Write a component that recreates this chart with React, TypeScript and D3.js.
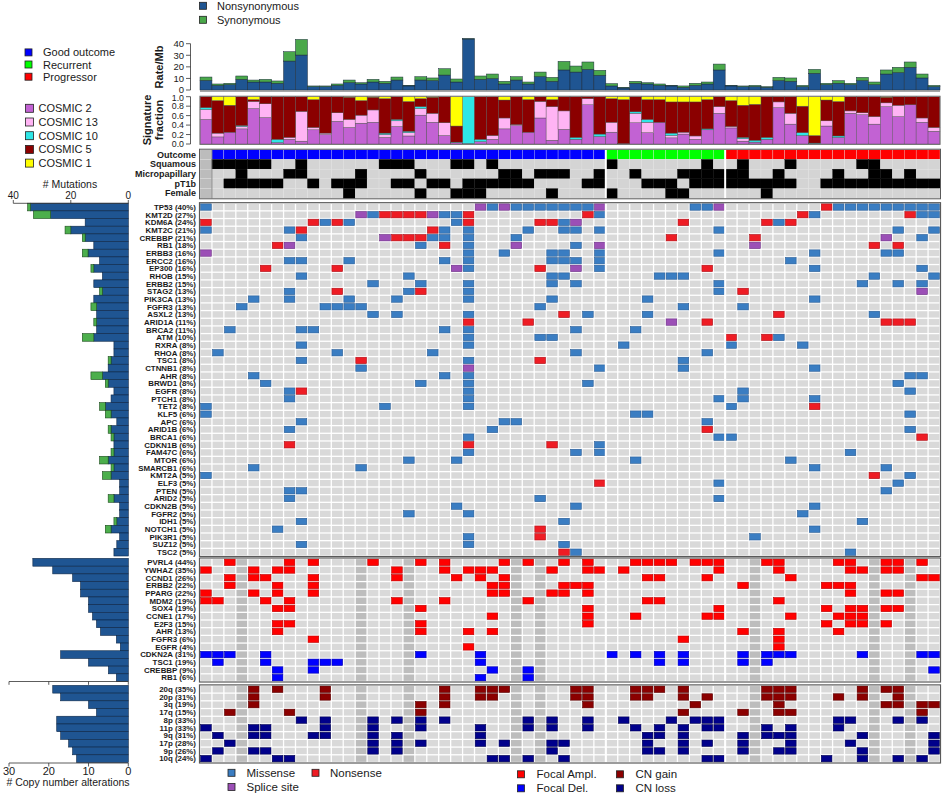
import React from "react";
import * as d3 from "d3";

const FONT = "Liberation Sans, Arial, Helvetica, sans-serif";
const N_SAMPLES = 62;
const MISSING_CN = [3, 13, 17, 26, 28, 46, 56, 59];

// outcome per sample: - unknown, G good outcome, R recurrent, P progressor
const outcomeCodes = ("-" + "GGGGGGGGGG" + "GGGGGGGGGG" + "GGGGGGGGGG" + "GGG" + "RRRRRRRRRR" + "PPPPPPPPPP" + "PPPPPPPP").split("");
const squamous = [1, 2, 3, 4, 5, 8, 15, 16, 17, 21, 22, 24, 34, 42, 45, 49, 55, 56];
const micropapillary = [3, 7, 8, 13, 18, 25, 26, 28, 29, 30, 33, 36, 40, 41, 42, 43, 44, 45, 48, 53, 56, 57, 59];
const pT1b = [2, 3, 4, 5, 6, 9, 11, 12, 13, 16, 17, 19, 20, 22, 23, 24, 25, 26, 27, 32, 33, 37, 38, 39, 41, 42, 43, 44, 45, 46, 47, 48, 49, 52, 53, 54, 55, 56, 57, 58, 59, 60, 61];
const female = [12, 18, 21, 22, 23, 29, 34, 39, 40, 47];

// mutation rate per Mb
const rateNonsyn = [8.3, 4.0, 4.6, 9.2, 6.9, 6.9, 5.8, 25.0, 30.2, 2.9, 2.9, 4.0, 6.3, 5.2, 6.9, 5.8, 8.6, 3.5, 8.6, 8.1, 12.9, 6.9, 44.0, 9.2, 9.8, 5.2, 8.6, 5.2, 11.5, 7.5, 17.3, 15.5, 17.8, 12.7, 3.5, 1.7, 5.8, 5.2, 4.0, 3.5, 2.3, 4.0, 5.2, 17.3, 3.5, 2.9, 2.9, 2.3, 8.1, 7.5, 2.9, 14.4, 4.6, 5.8, 4.6, 8.1, 4.6, 13.8, 15.0, 19.6, 10.4, 2.9];
const rateSyn = [2.9, 1.2, 1.2, 2.9, 1.7, 2.3, 2.0, 8.1, 13.5, 0.6, 0.6, 1.2, 2.3, 1.1, 2.3, 1.7, 2.6, 0.5, 2.9, 2.3, 5.5, 2.6, 0.3, 2.9, 4.0, 2.3, 2.9, 1.7, 4.0, 3.4, 7.4, 5.2, 6.4, 4.3, 2.0, 0.6, 1.7, 1.1, 1.2, 0.5, 1.2, 1.8, 1.7, 5.1, 0.5, 0.6, 1.1, 0.6, 2.8, 2.9, 1.1, 3.4, 1.2, 2.3, 1.2, 2.8, 2.3, 3.5, 4.6, 4.6, 3.4, 1.1];

// signature fractions
const sigCosmic2 = [.52, .15, .25, .32, .75, .56, .03, .10, .06, .30, .20, .48, .35, .44, .46, .14, .37, .17, .61, .46, .18, .03, .01, .05, .10, .32, .39, .25, .55, .08, .31, .10, .83, .16, .25, .01, .45, .24, .46, .13, .21, .10, .30, .65, .34, .06, .04, .10, .77, .42, .18, .01, .38, .14, .65, .62, .42, .79, .58, .83, .46, .27];
const sigCosmic13 = [.21, .08, 0, .05, .15, .29, 0, .04, .63, .05, .03, .18, .17, .17, .26, .06, .12, .07, .14, .19, .27, 0, 0, 0, .08, .23, .02, 0, .35, .71, .39, 0, .13, 0, .21, 0, .20, .22, 0, .05, .04, .07, 0, .14, .03, .05, 0, 0, .12, .23, 0, 0, .11, 0, .05, .04, .16, .08, .24, 0, .09, .08];
const sigCosmic10 = [.04, 0, 0, .02, 0, 0, .07, 0, 0, 0, 0, 0, 0, 0, 0, .03, .03, .03, .04, 0, 0, .01, .99, .05, 0, 0, 0, 0, 0, 0, 0, .04, 0, .05, 0, 0, .03, .06, 0, .05, 0, 0, .02, 0, 0, .03, .04, .04, 0, 0, .06, .01, 0, .03, 0, 0, 0, 0, 0, 0, 0, 0];
const sigCosmic5 = [.23, .69, .57, .61, .04, .15, .90, .86, .31, .59, .77, .34, .47, .31, .27, .73, .48, .63, .17, .34, .55, .34, 0, .90, .82, .38, .59, .69, .10, .15, .30, .86, .04, .79, .50, .93, .32, .42, .48, .66, .64, .72, .62, .21, .55, .68, .76, .86, .11, .35, .56, .16, .44, .73, .30, .34, .42, .12, .18, .17, .45, .65];
const sigCosmic1 = [0, .08, .18, 0, .06, 0, 0, 0, 0, .06, 0, 0, .01, .08, .01, .04, 0, .10, .04, .01, 0, .62, 0, 0, 0, .07, 0, .06, 0, .06, 0, 0, 0, 0, .04, .06, 0, .06, .06, .11, .11, .11, .06, 0, .08, .18, .16, 0, 0, 0, .20, .82, .07, .10, 0, 0, 0, .01, 0, 0, 0, 0];

// mutated genes
const mutGenes = ["TP53", "KMT2D", "KDM6A", "KMT2C", "CREBBP", "RB1", "ERBB3", "ERCC2", "EP300", "RHOB", "ERBB2", "STAG2", "PIK3CA", "FGFR3", "ASXL2", "ARID1A", "BRCA2", "ATM", "RXRA", "RHOA", "TSC1", "CTNNB1", "AHR", "BRWD1", "EGFR", "PTCH1", "TET2", "KLF5", "APC", "ARID1B", "BRCA1", "CDKN1B", "FAM47C", "MTOR", "SMARCB1", "KMT2A", "ELF3", "PTEN", "ARID2", "CDKN2B", "FGFR2", "IDH1", "NOTCH1", "PIK3R1", "SUZ12", "TSC2"];
const mutPct = ["40%", "27%", "24%", "21%", "21%", "18%", "16%", "16%", "16%", "15%", "15%", "13%", "13%", "13%", "13%", "11%", "11%", "10%", "8%", "8%", "8%", "8%", "8%", "8%", "8%", "8%", "8%", "6%", "6%", "6%", "6%", "6%", "6%", "6%", "6%", "5%", "5%", "5%", "5%", "5%", "5%", "5%", "5%", "5%", "5%", "5%"];
const mutBarNonsyn = [34, 27, 15, 20, 15, 12, 14, 10, 12, 9, 12, 9, 12, 11, 11, 11, 11, 12, 5, 5, 6, 7, 9, 7, 5, 6, 8, 6, 4, 6, 5, 5, 5, 7, 5, 6, 3, 3, 5, 3, 3, 4, 6, 3, 4, 5];
const mutBarSyn = [1, 6, 0, 2, 1, 0, 2, 0, 1, 0, 0, 1, 0, 2, 0, 1, 0, 4, 0, 0, 1, 0, 4, 1, 0, 0, 2, 2, 0, 1, 1, 0, 1, 3, 1, 3, 0, 0, 2, 0, 0, 1, 2, 0, 0, 0];
const mutMissense = [
  [0, 24, 26, 27, 28, 29, 30, 31, 32, 41, 42, 53, 54, 55, 56, 57, 58, 59, 60, 61],
  [14, 20, 21, 33, 51, 60, 61],
  [10, 12, 21, 30, 48],
  [0, 7, 20, 22, 27, 30, 31, 33, 43, 58, 61],
  [8, 19, 20, 22, 26, 60],
  [18, 22, 31],
  [22, 25, 29, 30, 33, 43, 51, 57, 58],
  [7, 8, 12, 20, 22, 29, 30, 31, 33, 49],
  [22, 33, 51, 60],
  [8, 17, 29, 30, 38, 39, 40, 56, 61],
  [14, 18, 22, 29, 31, 43, 55, 58, 60],
  [7, 17, 22, 43],
  [4, 7, 12, 16, 22, 29, 37, 51],
  [3, 10, 11, 12, 13, 28, 40, 45],
  [14, 16, 22, 32, 37, 56],
  [],
  [2, 8, 9, 20, 22, 31, 36],
  [22, 28, 29, 48],
  [8, 22, 35, 44, 50],
  [1, 11, 19, 31, 42],
  [8, 22, 40],
  [13, 33, 40, 51],
  [4, 20, 22, 59, 60],
  [5, 18, 22, 32, 58],
  [7, 22, 45, 59],
  [7, 22, 43, 45, 51],
  [0, 15, 22, 44],
  [0, 36, 37, 59],
  [8, 25, 26, 42],
  [7, 24, 59],
  [22, 43, 44],
  [33],
  [22, 31, 33, 54],
  [17, 21, 36, 49],
  [4, 13, 51, 57],
  [0, 59],
  [43, 58],
  [7, 8, 57],
  [7, 28, 43],
  [21, 31, 51],
  [17, 22, 50],
  [8, 30, 55],
  [6, 51],
  [22, 46],
  [8, 22, 30],
  [31, 54],
];
const mutNonsense = [
  [52], [15, 16, 17, 18, 22, 32, 50, 59], [0, 9, 11, 22, 28, 29, 40, 47, 49], [8, 19], [16, 17, 18, 39, 46],
  [6, 20, 56, 58], [], [], [5, 11, 28, 42], [], [], [11, 18, 45], [], [], [30, 48], [22, 27, 42, 57, 58, 59],
  [], [44, 47], [], [], [13, 28], [], [], [], [8], [], [51], [], [], [42], [60], [7, 22, 29], [], [], [],
  [56], [33], [], [], [], [], [], [28], [28], [], [30],
];
const mutSplice = [
  [23, 25, 33, 43], [13, 19], [31], [], [15, 57], [7, 26, 33, 46], [0], [], [21, 31], [], [], [60], [], [], [], [39],
  [], [], [], [], [], [22], [], [], [], [], [], [], [], [], [], [], [], [], [], [], [], [], [], [], [], [], [], [], [], [],
];

// focal copy number
const cnaGenes = ["PVRL4", "YWHAZ", "CCND1", "ERBB2", "PPARG", "MDM2", "SOX4", "CCNE1", "E2F3", "AHR", "FGFR3", "EGFR", "CDKN2A", "TSC1", "CREBBP", "RB1"];
const cnaPct = ["44%", "35%", "26%", "22%", "22%", "19%", "19%", "17%", "15%", "13%", "6%", "4%", "31%", "19%", "9%", "6%"];
const cnaType = ["amp", "amp", "amp", "amp", "amp", "amp", "amp", "amp", "amp", "amp", "amp", "amp", "del", "del", "del", "del"];
const cnaSamples = [
  [2, 7, 9, 14, 18, 20, 25, 27, 30, 32, 36, 37, 38, 39, 41, 42, 43, 47, 48, 53, 54, 57, 58, 60],
  [0, 4, 6, 7, 16, 20, 22, 23, 24, 29, 32, 33, 35, 43, 48, 54, 55, 57, 58],
  [2, 4, 5, 9, 16, 21, 23, 25, 37, 38, 42, 49, 60, 61],
  [2, 6, 9, 24, 25, 30, 31, 32, 45, 52, 53, 54],
  [0, 4, 6, 9, 24, 25, 29, 30, 32, 54, 57, 58],
  [0, 1, 5, 7, 16, 20, 27, 37, 38, 48],
  [6, 7, 18, 32, 43, 52, 54, 55, 57, 58],
  [24, 32, 36, 42, 43, 49, 53, 54, 55],
  [6, 7, 18, 32, 52, 54, 55, 57],
  [6, 18, 22, 24, 45, 48, 53],
  [9, 40, 48],
  [22, 48],
  [0, 1, 2, 5, 18, 23, 34, 36, 38, 40, 45, 47, 48, 49, 55, 60, 61],
  [1, 5, 9, 10, 11, 23, 38, 40, 45, 47],
  [6, 9, 24, 27, 61],
  [6, 23, 27],
];

// arm-level copy number
const armNames = ["20q", "20p", "3q", "17q", "8p", "11p", "9q", "17p", "9p", "10q"];
const armPct = ["35%", "31%", "19%", "15%", "33%", "33%", "31%", "28%", "26%", "24%"];
const armType = ["gain", "gain", "gain", "gain", "loss", "loss", "loss", "loss", "loss", "loss"];
const armSamples = [
  [4, 6, 10, 20, 23, 24, 25, 31, 32, 36, 37, 38, 40, 47, 48, 49, 55, 57, 58],
  [4, 10, 20, 23, 24, 31, 32, 36, 37, 40, 42, 47, 48, 49, 53, 55, 58],
  [4, 18, 20, 32, 41, 48, 57, 58, 60, 61],
  [2, 7, 18, 40, 45, 48, 49, 60],
  [8, 10, 14, 16, 18, 20, 27, 29, 32, 35, 39, 41, 42, 43, 53, 54, 58, 60],
  [0, 4, 5, 10, 14, 18, 23, 27, 29, 32, 36, 38, 40, 42, 43, 47, 49, 53],
  [1, 4, 5, 9, 10, 14, 16, 23, 37, 38, 40, 45, 47, 48, 49, 55, 61],
  [2, 14, 16, 18, 23, 25, 29, 30, 37, 40, 42, 45, 49, 54, 61],
  [1, 4, 5, 14, 16, 29, 37, 38, 40, 45, 48, 49, 55, 61],
  [0, 6, 7, 24, 25, 27, 30, 42, 43, 52, 55, 58, 60],
];

const C = {
  nonsyn: "#1f5592", syn: "#4aa84a",
  c2: "#c262d3", c13: "#ffb4f4", c10: "#2ee6e6", c5: "#8b0000", c1: "#ffff00",
  good: "#0000ff", rec: "#00ff00", prog: "#ff0000",
  missense: "#3a7dc2", nonsense: "#ee1c24", splice: "#9b4fb6",
  amp: "#ff0000", del: "#0000ff", gain: "#8b0000", loss: "#00008b",
  cell: "#d9d9d9", missing: "#bdbdbd", clin: "#d4d4d4", frame: "#5a5a5a", text: "#1a1a1a",
  barBlue: "#1f5592", barGreen: "#4caf4c",
};
const STROKE: Record<string, string> = {
  missense: "#2a5f99", nonsense: "#b01018", splice: "#6f2f88",
  amp: "#c00000", del: "#0000b0", gain: "#5a0000", loss: "#000050",
};

export default function App() {
  const x = d3.scaleBand<number>().domain(d3.range(N_SAMPLES)).range([200, 940]);
  const cw = x.bandwidth();
  const yRate = d3.scaleLinear().domain([0, 40]).range([90, 43.7]);
  const ySig = d3.scaleLinear().domain([0, 1]).range([144, 96.7]);
  const clinRows = ["Outcome", "Squamous", "Micropapillary", "pT1b", "Female"];
  const yClin = d3.scaleBand<string>().domain(clinRows).range([149.7, 198.3]);
  const yMut = d3.scaleBand<string>().domain(mutGenes).range([203.2, 556]);
  const yCna = d3.scaleBand<string>().domain(cnaGenes).range([558.5, 681.5]);
  const yArm = d3.scaleBand<string>().domain(armNames).range([685.4, 762.5]);
  const xMutBar = d3.scaleLinear().domain([0, 40]).range([128.3, 13.3]);
  const xCnaBar = d3.scaleLinear().domain([0, 30]).range([128.3, 9]);

  const rateTable = d3.range(N_SAMPLES).map((i) => ({ nonsyn: rateNonsyn[i], syn: rateSyn[i] }));
  const rateStack = d3.stack<any>().keys(["nonsyn", "syn"])(rateTable);
  const sigTable = d3.range(N_SAMPLES).map((i) => ({ c2: sigCosmic2[i], c13: sigCosmic13[i], c10: sigCosmic10[i], c5: sigCosmic5[i], c1: sigCosmic1[i] }));
  const sigStack = d3.stack<any>().keys(["c2", "c13", "c10", "c5", "c1"])(sigTable);

  const gx = 0.65, gy = 0.65;
  const cellRect = (key: string, i: number, y0: number, h: number, fill: string, stroke?: string) => (
    <rect key={key} x={x(i)! + gx} y={y0 + gy} width={cw - 2 * gx} height={h - 2 * gy} fill={fill} stroke={stroke || "none"} strokeWidth={stroke ? 0.6 : 0} />
  );

  const clinSets: Record<string, number[]> = { Squamous: squamous, Micropapillary: micropapillary, pT1b: pT1b, Female: female };
  const outColor: Record<string, string> = { G: C.good, R: C.rec, P: C.prog };

  const els: JSX.Element[] = [];

  // ---------- rate bars ----------
  rateStack.forEach((layer) => {
    layer.forEach((d, i) => {
      els.push(<rect key={`r-${layer.key}-${i}`} x={x(i)!} y={yRate(d[1])} width={cw} height={yRate(d[0]) - yRate(d[1])}
        fill={layer.key === "nonsyn" ? C.nonsyn : C.syn} stroke="#1b2b3b" strokeWidth={0.5} />);
    });
  });
  els.push(<line key="rate-base" x1={200} x2={940} y1={91} y2={91} stroke="#8a8a8a" strokeWidth={1.5} />);
  // rate axis
  els.push(<line key="rate-ax" x1={190.5} x2={190.5} y1={yRate(0)} y2={yRate(40)} stroke="#333" strokeWidth={0.8} />);
  yRate.ticks(4).forEach((t) => {
    els.push(<line key={`rt-${t}`} x1={186} x2={190.5} y1={yRate(t)} y2={yRate(t)} stroke="#333" strokeWidth={0.8} />);
    els.push(<text key={`rl-${t}`} x={184} y={yRate(t) - (t === 0 ? 1 : 0)} textAnchor="end" dominantBaseline="central" fontSize={9.5} fill={C.text}>{t}</text>);
  });
  els.push(<text key="rate-title" transform={`translate(163,67) rotate(-90)`} textAnchor="middle" fontSize={11} fontWeight="bold" fill={C.text}>Rate/Mb</text>);

  // ---------- signature ----------
  sigStack.forEach((layer) => {
    layer.forEach((d, i) => {
      if (d[1] - d[0] <= 0) return;
      els.push(<rect key={`s-${layer.key}-${i}`} x={x(i)!} y={ySig(d[1])} width={cw} height={ySig(d[0]) - ySig(d[1])}
        fill={(C as any)[layer.key as string]} stroke="#4a4a4a" strokeWidth={0.4} />);
    });
  });
  els.push(<rect key="sig-frame" x={200} y={ySig(1) - 0.5} width={740} height={ySig(0) - ySig(1) + 1} fill="none" stroke="#777" strokeWidth={1} />);
  els.push(<line key="sig-ax" x1={190.5} x2={190.5} y1={ySig(0)} y2={ySig(1)} stroke="#333" strokeWidth={0.8} />);
  ySig.ticks(5).forEach((t) => {
    els.push(<line key={`st-${t}`} x1={186} x2={190.5} y1={ySig(t)} y2={ySig(t)} stroke="#333" strokeWidth={0.8} />);
    els.push(<text key={`sl-${t}`} x={184} y={ySig(t) + (t === 1 ? 1 : 0)} textAnchor="end" dominantBaseline="central" fontSize={8.8} fill={C.text}>{d3.format(".1f")(t)}</text>);
  });
  els.push(<text key="sig-t1" transform={`translate(151,120) rotate(-90)`} textAnchor="middle" fontSize={11} fontWeight="bold" fill={C.text}>Signature</text>);
  els.push(<text key="sig-t2" transform={`translate(163,120) rotate(-90)`} textAnchor="middle" fontSize={11} fontWeight="bold" fill={C.text}>fraction</text>);

  // ---------- clinical ----------
  clinRows.forEach((row) => {
    const y0 = yClin(row)!, h = yClin.bandwidth();
    d3.range(N_SAMPLES).forEach((i) => {
      let fill = C.clin;
      if (outcomeCodes[i] === "-") fill = "#bcbcbc";
      else if (row === "Outcome") fill = outColor[outcomeCodes[i]];
      else if (clinSets[row].includes(i)) fill = "#000";
      els.push(<rect key={`c-${row}-${i}`} x={x(i)!} y={y0} width={cw} height={h} fill={fill} stroke={fill === "#000" ? "#000" : "#e4e4e4"} strokeWidth={0.3} />);
    });
    els.push(<text key={`cl-${row}`} x={196} y={y0 + h / 2} textAnchor="end" dominantBaseline="central" fontSize={9} fontWeight="bold" fill={C.text}>{row}</text>);
  });
  els.push(<line key="c0sep" x1={x(1)!} x2={x(1)!} y1={149.7} y2={198.3} stroke="#777" strokeWidth={0.8} />);

  // ---------- mutation matrix ----------
  mutGenes.forEach((g, r) => {
    const y0 = yMut(g)!, h = yMut.bandwidth();
    d3.range(N_SAMPLES).forEach((i) => els.push(cellRect(`mg-${r}-${i}`, i, y0, h, C.cell)));
    mutMissense[r].forEach((i) => els.push(cellRect(`mm-${r}-${i}`, i, y0, h, C.missense, STROKE.missense)));
    mutNonsense[r].forEach((i) => els.push(cellRect(`mn-${r}-${i}`, i, y0, h, C.nonsense, STROKE.nonsense)));
    mutSplice[r].forEach((i) => els.push(cellRect(`ms-${r}-${i}`, i, y0, h, C.splice, STROKE.splice)));
    els.push(<text key={`ml-${r}`} x={196} y={y0 + h / 2 + 0.3} textAnchor="end" dominantBaseline="central" fontSize={7.9} fontWeight="bold" fill={C.text}>{`${g} (${mutPct[r]})`}</text>);
    // left bars
    const ns = mutBarNonsyn[r], sy = mutBarSyn[r];
    els.push(<rect key={`mb-${r}`} x={xMutBar(ns)} y={y0} width={xMutBar(0) - xMutBar(ns)} height={h} fill={C.barBlue} stroke="#0c2646" strokeWidth={0.6} />);
    if (sy > 0) els.push(<rect key={`mbs-${r}`} x={xMutBar(ns + sy)} y={y0} width={xMutBar(ns) - xMutBar(ns + sy)} height={h} fill={C.barGreen} stroke="#1c4a1c" strokeWidth={0.6} />);
  });
  // mutation bar axis
  els.push(<line key="mb-ax" x1={xMutBar(40)} x2={xMutBar(0)} y1={203.3} y2={203.3} stroke="#333" strokeWidth={0.8} />);
  [40, 20, 0].forEach((t) => {
    els.push(<line key={`mbt-${t}`} x1={xMutBar(t)} x2={xMutBar(t)} y1={200} y2={203.3} stroke="#333" strokeWidth={0.8} />);
    els.push(<text key={`mbl-${t}`} x={xMutBar(t)} y={199} textAnchor="middle" fontSize={10} fill={C.text}>{t}</text>);
  });
  els.push(<text key="mb-title" x={70} y={187.5} textAnchor="middle" fontSize={10.5} fill={C.text}># Mutations</text>);
  els.push(<line key="mb-bottom" x1={32} x2={128.3} y1={558.7} y2={558.7} stroke="#b8c4d0" strokeWidth={1} />);

  // ---------- focal CNA ----------
  cnaGenes.forEach((g, r) => {
    const y0 = yCna(g)!, h = yCna.bandwidth();
    d3.range(N_SAMPLES).forEach((i) => els.push(cellRect(`cg-${r}-${i}`, i, y0, h, MISSING_CN.includes(i) ? C.missing : C.cell)));
    const t = cnaType[r];
    cnaSamples[r].forEach((i) => els.push(cellRect(`cc-${r}-${i}`, i, y0, h, (C as any)[t], STROKE[t])));
    els.push(<text key={`cl-${r}`} x={196} y={y0 + h / 2 + 0.3} textAnchor="end" dominantBaseline="central" fontSize={7.9} fontWeight="bold" fill={C.text}>{`${g} (${cnaPct[r]})`}</text>);
    const n = cnaSamples[r].length;
    els.push(<rect key={`cb-${r}`} x={xCnaBar(n)} y={y0} width={xCnaBar(0) - xCnaBar(n)} height={h} fill={C.barBlue} stroke="#0c2646" strokeWidth={0.6} />);
  });
  els.push(<line key="cb-ax" x1={xCnaBar(30)} x2={xCnaBar(0)} y1={681.5} y2={681.5} stroke="#333" strokeWidth={0.8} />);
  [30, 20, 10, 0].forEach((t) => els.push(<line key={`cbt-${t}`} x1={xCnaBar(t)} x2={xCnaBar(t)} y1={681.5} y2={684.8} stroke="#333" strokeWidth={0.8} />));

  // ---------- arm level ----------
  armNames.forEach((a, r) => {
    const y0 = yArm(a)!, h = yArm.bandwidth();
    d3.range(N_SAMPLES).forEach((i) => els.push(cellRect(`ag-${r}-${i}`, i, y0, h, MISSING_CN.includes(i) ? C.missing : C.cell)));
    const t = armType[r];
    armSamples[r].forEach((i) => els.push(cellRect(`aa-${r}-${i}`, i, y0, h, (C as any)[t], STROKE[t])));
    els.push(<text key={`al-${r}`} x={196} y={y0 + h / 2 + 0.3} textAnchor="end" dominantBaseline="central" fontSize={7.9} fontWeight="bold" fill={C.text}>{`${a} (${armPct[r]})`}</text>);
    const n = armSamples[r].length;
    els.push(<rect key={`ab-${r}`} x={xCnaBar(n)} y={y0} width={xCnaBar(0) - xCnaBar(n)} height={h} fill={C.barBlue} stroke="#0c2646" strokeWidth={0.6} />);
  });
  els.push(<line key="ab-ax" x1={xCnaBar(30)} x2={xCnaBar(0)} y1={763} y2={763} stroke="#333" strokeWidth={0.8} />);
  [30, 20, 10, 0].forEach((t) => {
    els.push(<line key={`abt-${t}`} x1={xCnaBar(t)} x2={xCnaBar(t)} y1={763} y2={766.5} stroke="#333" strokeWidth={0.8} />);
    els.push(<text key={`abl-${t}`} x={xCnaBar(t)} y={775} textAnchor="middle" fontSize={11} fill={C.text}>{t}</text>);
  });
  els.push(<text key="ab-title" x={68} y={785.5} textAnchor="middle" fontSize={10.5} fill={C.text}># Copy number alterations</text>);

  // ---------- separators and frames ----------
  [34, 44].forEach((i) => els.push(<line key={`sep-${i}`} x1={x(i)!} x2={x(i)!} y1={149.7} y2={762.5} stroke="#fff" strokeWidth={2} />));
  els.push(<rect key="f-clin" x={199.5} y={149.2} width={741} height={49.6} fill="none" stroke={C.frame} strokeWidth={1} />);
  els.push(<rect key="f-mut" x={199.5} y={202.7} width={741} height={353.8} fill="none" stroke={C.frame} strokeWidth={1.2} />);
  els.push(<rect key="f-cna" x={199.5} y={558} width={741} height={124} fill="none" stroke={C.frame} strokeWidth={1.2} />);
  els.push(<rect key="f-arm" x={199.5} y={684.9} width={741} height={78.1} fill="none" stroke={C.frame} strokeWidth={1.2} />);

  // ---------- legends ----------
  const legendItem = (key: string, sx: number, sy: number, size: number, fill: string, tx: number, label: string, fs: number) => (
    <g key={key}>
      <rect x={sx} y={sy - size / 2} width={size} height={size} fill={fill} stroke="#222" strokeWidth={0.8} />
      <text x={tx} y={sy} dominantBaseline="central" fontSize={fs} fill={C.text}>{label}</text>
    </g>
  );
  els.push(legendItem("lg-ns", 199.5, 5.8, 7, C.nonsyn, 217, "Nonsynonymous", 11));
  els.push(legendItem("lg-sy", 199.5, 19.8, 7, C.syn, 217, "Synonymous", 11));
  els.push(legendItem("lg-go", 25, 52.4, 7, C.good, 43, "Good outcome", 11));
  els.push(legendItem("lg-re", 25, 64.5, 7, C.rec, 43, "Recurrent", 11));
  els.push(legendItem("lg-pr", 25, 76.7, 7, C.prog, 43, "Progressor", 11));
  const cosmicLabels = ["COSMIC 2", "COSMIC 13", "COSMIC 10", "COSMIC 5", "COSMIC 1"];
  const cosmicKeys = ["c2", "c13", "c10", "c5", "c1"];
  cosmicLabels.forEach((l, k) => els.push(legendItem(`lg-c${k}`, 25.5, 108.3 + k * 13.7, 8, (C as any)[cosmicKeys[k]], 38.5, l, 11)));
  els.push(legendItem("lg-mis", 228, 772.8, 7, C.missense, 246.5, "Missense", 11.5));
  els.push(legendItem("lg-non", 312, 772.8, 7, C.nonsense, 330, "Nonsense", 11.5));
  els.push(legendItem("lg-spl", 228, 787, 7, C.splice, 246.5, "Splice site", 11.5));
  els.push(legendItem("lg-amp", 517.5, 774.3, 7, C.amp, 536.5, "Focal Ampl.", 11.5));
  els.push(legendItem("lg-del", 517.5, 788.3, 7, C.del, 536.5, "Focal Del.", 11.5));
  els.push(legendItem("lg-gain", 616.5, 774.3, 7, C.gain, 635.5, "CN gain", 11.5));
  els.push(legendItem("lg-loss", 616.5, 788.3, 7, C.loss, 635.5, "CN loss", 11.5));

  return (
    <>
      <style>{`body{margin:0;background:#fff}`}</style>
      <svg width={944} height={795} viewBox="0 0 944 795" style={{ display: "block", fontFamily: FONT }}>
        <rect x={0} y={0} width={944} height={795} fill="#fff" />
        {els}
      </svg>
    </>
  );
}
